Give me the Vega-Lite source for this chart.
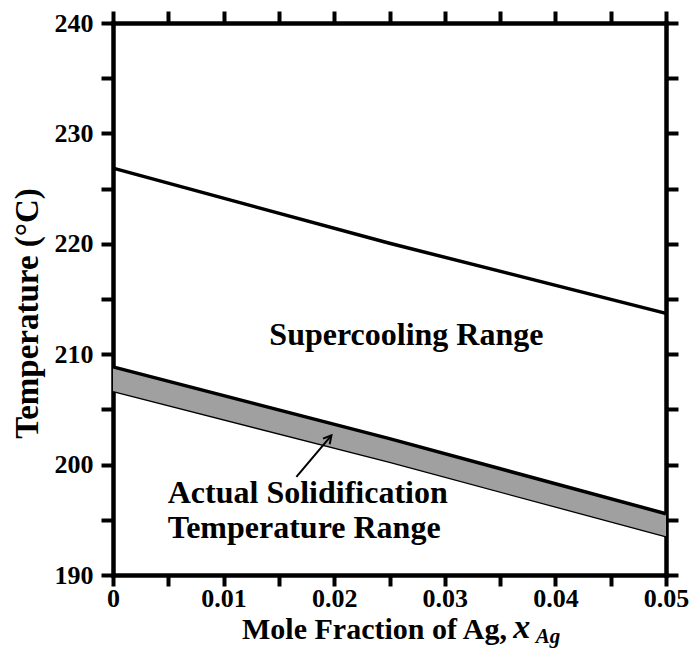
{
  "$schema": "https://vega.github.io/schema/vega-lite/v6.json",
  "width": 553,
  "height": 552,
  "autosize": "none",
  "padding": {"left": 113, "top": 23, "right": 24, "bottom": 75},
  "background": "white",
  "config": {
    "view": {"stroke": null},
    "font": "Liberation Serif",
    "axis": {
      "domainColor": "black", "domainWidth": 4.5, "domainCap": "square",
      "tickColor": "black", "tickWidth": 4, "tickSize": 12,
      "labelFont": "Liberation Serif", "labelFontWeight": "bold", "labelFontSize": 26, "labelColor": "black",
      "titleFont": "Liberation Serif", "titleFontWeight": "bold", "titleColor": "black",
      "grid": false, "labelOverlap": false, "labelFlush": false
    }
  },
  "datasets": {
    "upper": [
      {"x": 0.0, "T": 226.85},
      {"x": 0.025, "T": 220.05},
      {"x": 0.05, "T": 213.7}
    ],
    "band": [
      {"x": 0.0, "lo": 206.6, "hi": 208.85},
      {"x": 0.025, "lo": 200.2, "hi": 202.35},
      {"x": 0.05, "lo": 193.45, "hi": 195.55}
    ],
    "centerlabel": [
      {"x": 0.02653, "y": 210.83, "text": "Supercooling Range"}
    ],
    "leftlabels": [
      {"x": 0.00495, "y": 196.52, "text": "Actual Solidification"},
      {"x": 0.00495, "y": 193.35, "text": "Temperature Range"}
    ],
    "arrow": [
      {"x": 0.01658, "y": 198.88, "x2": 0.01975, "y2": 202.65}
    ],
    "xsym": [
      {"x": 0.03695, "y": 184.3, "text": "x"}
    ],
    "xsub": [
      {"x": 0.03822, "y": 183.85, "text": "Ag"}
    ]
  },
  "layer": [
    {
      "data": {"name": "band"},
      "mark": {"type": "area", "color": "#a0a0a0"},
      "encoding": {
        "x": {
          "field": "x", "type": "quantitative",
          "scale": {"domain": [0, 0.05], "nice": false, "zero": false},
          "axis": {
            "orient": "bottom",
            "values": [0, 0.005, 0.01, 0.015, 0.02, 0.025, 0.03, 0.035, 0.04, 0.045, 0.05],
            "labelExpr": "datum.value == 0 ? '0' : (round(datum.value*1000) % 10 == 0 ? format(datum.value, '.2f') : '')",
            "domainWidth": 4.5, "tickWidth": 4, "tickSize": 11, "domainColor": "black", "tickColor": "black",
            "labelPadding": -1,
            "title": "Mole Fraction of Ag, ",
            "titleFontSize": 30,
            "titleX": 261, "titleY": 63, "titleAlign": "center", "titleBaseline": "alphabetic"
          }
        },
        "y": {
          "field": "lo", "type": "quantitative",
          "scale": {"domain": [190, 240], "nice": false, "zero": false},
          "axis": {
            "orient": "left",
            "values": [190, 195, 200, 205, 210, 215, 220, 225, 230, 235, 240],
            "labelExpr": "datum.value % 10 == 0 ? datum.label : ''",
            "domainWidth": 4.5, "tickWidth": 4, "tickSize": 12, "domainColor": "black", "tickColor": "black",
            "labelPadding": 8,
            "title": "Temperature (°C)",
            "titleFontSize": 33,
            "titleX": -76, "titleY": 290, "titleAngle": -90, "titleAlign": "center", "titleBaseline": "alphabetic"
          }
        },
        "y2": {"field": "hi"}
      }
    },
    {
      "data": {"name": "band"},
      "mark": {"type": "line", "color": "black", "strokeWidth": 3.5},
      "encoding": {
        "x": {"field": "x", "type": "quantitative", "axis": null},
        "y": {"field": "hi", "type": "quantitative", "axis": null}
      }
    },
    {
      "data": {"name": "band"},
      "mark": {"type": "line", "color": "black", "strokeWidth": 1.3},
      "encoding": {
        "x": {"field": "x", "type": "quantitative", "axis": null},
        "y": {"field": "lo", "type": "quantitative", "axis": null}
      }
    },
    {
      "data": {"name": "upper"},
      "mark": {"type": "line", "color": "black", "strokeWidth": 3.5},
      "encoding": {
        "x": {"field": "x", "type": "quantitative", "axis": null},
        "y": {"field": "T", "type": "quantitative", "axis": null}
      }
    },
    {
      "data": {"name": "centerlabel"},
      "mark": {"type": "text", "font": "Liberation Serif", "fontWeight": "bold", "fontSize": 32, "color": "black", "baseline": "alphabetic", "align": "center"},
      "encoding": {
        "x": {"field": "x", "type": "quantitative", "axis": null},
        "y": {"field": "y", "type": "quantitative", "axis": null},
        "text": {"field": "text"}
      }
    },
    {
      "data": {"name": "leftlabels"},
      "mark": {"type": "text", "font": "Liberation Serif", "fontWeight": "bold", "fontSize": 32, "color": "black", "baseline": "alphabetic", "align": "left"},
      "encoding": {
        "x": {"field": "x", "type": "quantitative", "axis": null},
        "y": {"field": "y", "type": "quantitative", "axis": null},
        "text": {"field": "text"}
      }
    },
    {
      "data": {"name": "arrow"},
      "mark": {"type": "rule", "color": "black", "strokeWidth": 2},
      "encoding": {
        "x": {"field": "x", "type": "quantitative", "axis": null},
        "y": {"field": "y", "type": "quantitative", "axis": null},
        "x2": {"field": "x2"},
        "y2": {"field": "y2"}
      }
    },
    {
      "data": {"name": "arrow"},
      "mark": {"type": "point", "shape": "M -0.55 1 L 0 0 L 0.55 1", "filled": false, "color": "black", "strokeWidth": 2, "size": 250, "angle": 40, "opacity": 1},
      "encoding": {
        "x": {"field": "x2", "type": "quantitative", "axis": null},
        "y": {"field": "y2", "type": "quantitative", "axis": null}
      }
    },
    {
      "data": {"name": "xsym"},
      "mark": {"type": "text", "font": "Liberation Serif", "fontWeight": "bold", "fontStyle": "italic", "fontSize": 34, "color": "black", "baseline": "alphabetic", "align": "center"},
      "encoding": {
        "x": {"field": "x", "type": "quantitative", "axis": null},
        "y": {"field": "y", "type": "quantitative", "axis": null},
        "text": {"field": "text"}
      }
    },
    {
      "data": {"name": "xsub"},
      "mark": {"type": "text", "font": "Liberation Serif", "fontWeight": "bold", "fontStyle": "italic", "fontSize": 21, "color": "black", "baseline": "alphabetic", "align": "left"},
      "encoding": {
        "x": {"field": "x", "type": "quantitative", "axis": null},
        "y": {"field": "y", "type": "quantitative", "axis": null},
        "text": {"field": "text"}
      }
    },
    {
      "data": {"name": "band"},
      "mark": {"type": "line", "opacity": 0},
      "encoding": {
        "x": {
          "field": "x", "type": "quantitative",
          "axis": {"orient": "top", "values": [0, 0.005, 0.01, 0.015, 0.02, 0.025, 0.03, 0.035, 0.04, 0.045, 0.05], "labels": false, "title": null,
                   "domainWidth": 4.5, "tickWidth": 4, "tickSize": 12, "domainColor": "black", "tickColor": "black"}
        },
        "y": {
          "field": "hi", "type": "quantitative",
          "axis": {"orient": "right", "values": [190, 195, 200, 205, 210, 215, 220, 225, 230, 235, 240], "labels": false, "title": null,
                   "domainWidth": 4.5, "tickWidth": 4, "tickSize": 12, "domainColor": "black", "tickColor": "black"}
        }
      }
    }
  ],
  "resolve": {"axis": {"x": "independent", "y": "independent"}}
}
